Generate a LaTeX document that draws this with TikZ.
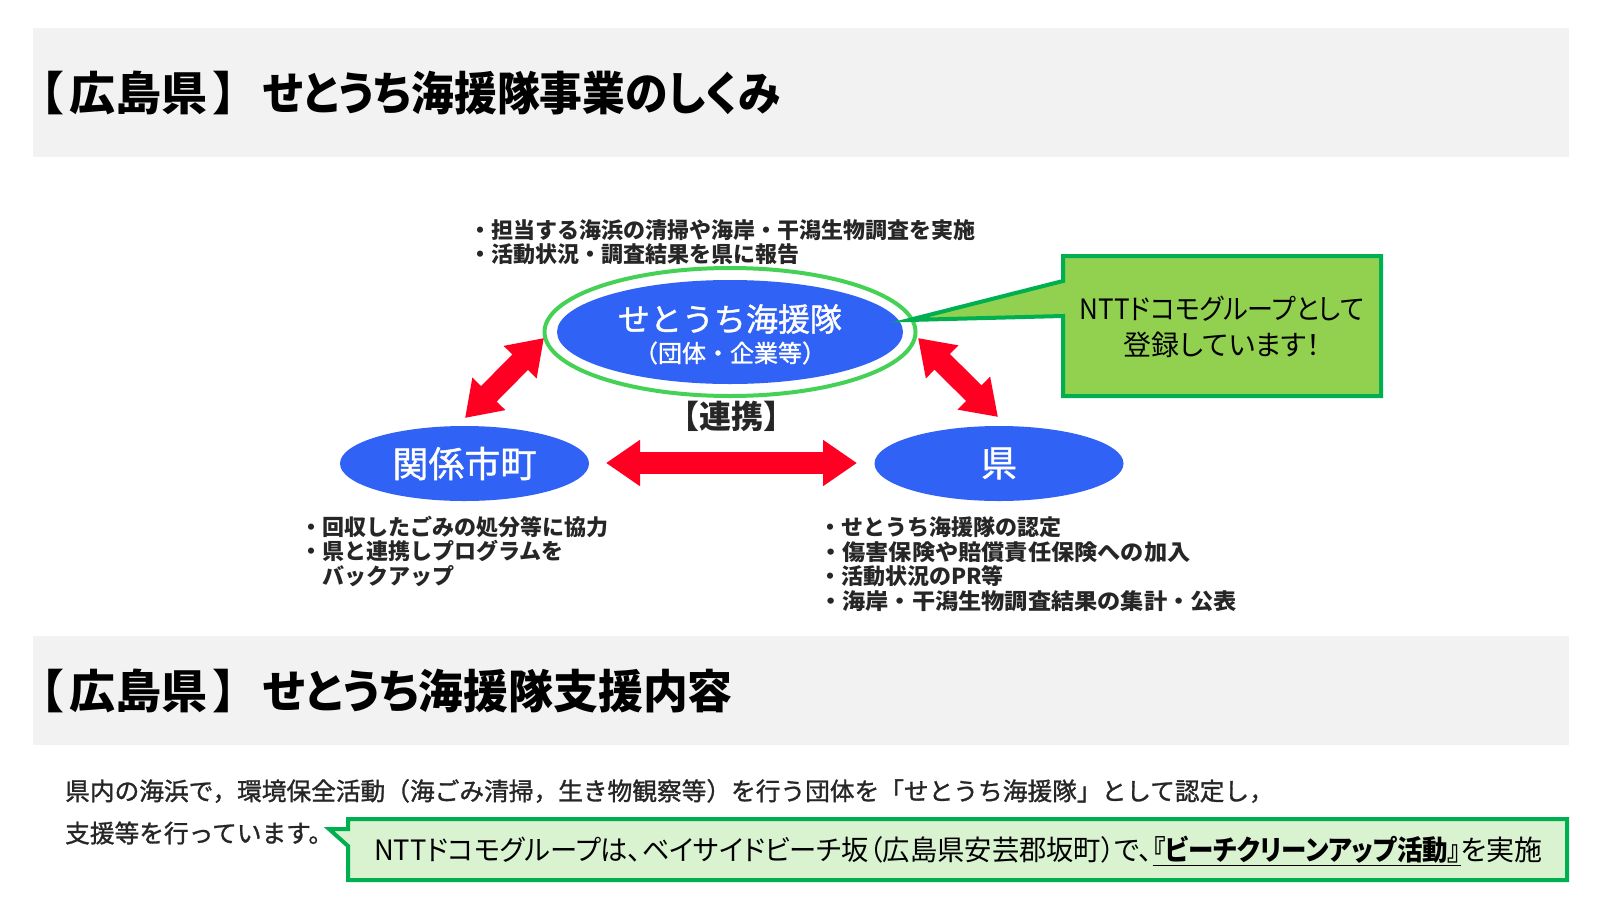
\documentclass[tikz,border=0pt]{standalone}
\usepackage{fontspec}
\usepackage{tikz}
\usetikzlibrary{arrows.meta, shapes.geometric}
\setmainfont{Noto Sans CJK JP}
\newfontfamily\jpui[RawFeature=+palt]{Noto Sans CJK JP}
\newfontfamily\jpfirm[FakeBold=1.2]{Noto Sans CJK JP}
\definecolor{bandgray}{HTML}{F2F2F2}
\definecolor{ovalblue}{HTML}{2F62F5}
\definecolor{ringgreen}{HTML}{45D155}
\definecolor{arrowred}{HTML}{FF0022}
\definecolor{calloutline}{HTML}{00B050}
\definecolor{calloutfill}{HTML}{92D050}
\definecolor{notefill}{HTML}{D9F2D0}
\definecolor{listgray}{HTML}{262626}
\newcommand{\prefhead}{【\hspace{6pt}広島県\hspace{6pt}】\hspace{27pt}}
\tikzset{
  band/.style={fill=bandgray, draw=none},
  titletext/.style={anchor=west, inner sep=0pt, font=\fontsize{46}{50}\selectfont\jpui\bfseries},
  oval/.style={ellipse, fill=ovalblue, inner sep=0pt, text=white, align=center},
  listtext/.style={anchor=west, inner sep=0pt, align=left, text=listgray, font=\fontsize{22}{24.5}\selectfont\bfseries},
  bodytext/.style={anchor=west, inner sep=0pt, text=listgray, font=\fontsize{24.7}{26}\selectfont\jpfirm},
  linkarrow/.style={arrowred, line width=22pt, {Triangle[length=34pt,width=44pt]}-{Triangle[length=34pt,width=44pt]}},
  callout/.style={draw=calloutline, line width=4pt, miter limit=20},
}
\begin{document}
\begin{tikzpicture}[x=1pt, y=-1pt]
    \useasboundingbox (0,0) rectangle (1600,900);

    \fill[band] (33,28) rectangle (1569,157);
    \fill[band] (33,636) rectangle (1569,745);
    \node[titletext] (title1) at (40,93) {\prefhead\scalebox{.93}[1]{せとうち海援隊事業のしくみ}};
    \node[titletext] (title2) at (40,691) {\prefhead\scalebox{.975}[1]{せとうち海援隊支援内容}};

    \node[oval, minimum width=346pt, minimum height=104pt] (sea) at (730,332) {};
    \node[inner sep=0pt, text=white, font=\fontsize{32}{34}\selectfont\jpfirm] (sealabel) at (730,319) {せとうち海援隊};
    \node[inner sep=0pt, text=white, font=\fontsize{24}{26}\selectfont\jpfirm] (seasub) at (730,353) {（団体・企業等）};
    \node[ellipse, draw=ringgreen, line width=4pt, inner sep=0pt, minimum width=371pt, minimum height=128pt] (ring) at (730,332) {};
    \node[oval, minimum width=249pt, minimum height=75pt, font=\fontsize{36}{38}\selectfont\jpfirm] (city) at (464.5,463.5) {関係市町};
    \node[oval, minimum width=249pt, minimum height=75pt, font=\fontsize{36}{38}\selectfont\jpfirm] (pref) at (999,463.5) {県};
    \node[inner sep=0pt, text=listgray, font=\fontsize{32}{34}\selectfont\bfseries] (link) at (731,416) {【連携】};

    \coordinate (seaL) at (544,338);
    \coordinate (seaR) at (918,338);
    \coordinate (cityT) at (465,418);
    \coordinate (prefT) at (998,417);
    \coordinate (cityR) at (606,463);
    \coordinate (prefL) at (857,463);
    \draw[linkarrow] (seaL) -- (cityT);
    \draw[linkarrow] (seaR) -- (prefT);
    \draw[linkarrow] (cityR) -- (prefL);

    \node[listtext] (top) at (469,242) {・担当する海浜の清掃や海岸・干潟生物調査を実施\\・活動状況・調査結果を県に報告};
    \node[listtext] (cityitems) at (300,551) {・回収したごみの処分等に協力\\・県と連携しプログラムを\\\hspace{22pt}バックアップ};
    \node[listtext] (prefitems) at (819,564) {・せとうち海援隊の認定\\\scalebox{1.055}[1]{・傷害保険や賠償責任保険への加入}\\・活動状況のPR等\\\scalebox{1.055}[1]{・海岸・干潟生物調査結果の集計・公表}};

    \draw[callout, fill=calloutfill] (1063,256) -- (1381,256) -- (1381,396) -- (1063,396) -- (1063,316) -- (909,320) -- (1063,281) -- cycle;
    \node[inner sep=0pt, align=center, font=\fontsize{28}{36}\selectfont\jpui] (calloutlabel) at (1222,327) {\scalebox{.93}[1]{NTTドコモグループとして}\\登録しています！};

    \node[bodytext] (body1) at (65,791) {県内の海浜で，環境保全活動（海ごみ清掃，生き物観察等）を行う団体を「せとうち海援隊」として認定し，};
    \node[bodytext] (body2) at (65,833) {支援等を行っています。};

    \draw[callout, fill=notefill] (348,819) -- (1567,819) -- (1567,880) -- (348,880) -- (348,846) -- (329,829) -- (348,829) -- cycle;
    \node[anchor=west, inner sep=0pt, font=\fontsize{28}{30}\selectfont\jpui] (notelabel) at (374,851) {\scalebox{.975}[1]{NTTドコモグループは、ベイサイドビーチ坂（広島県安芸郡坂町）で、}\underline{\scalebox{.91}[1]{\bfseries 『ビーチクリーンアップ活動』}}を実施};
\end{tikzpicture}
\end{document}
